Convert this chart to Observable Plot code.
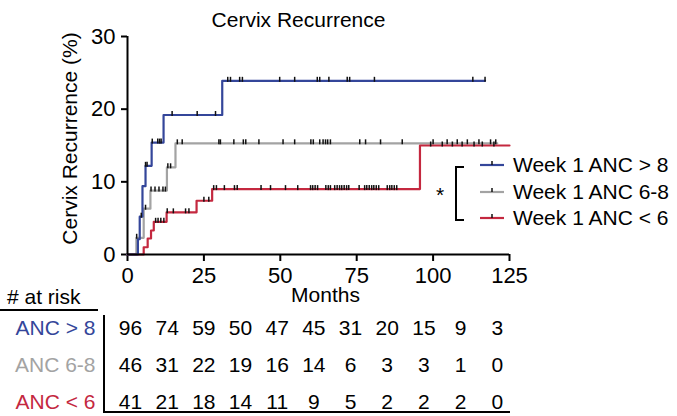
<!DOCTYPE html>
<html><head><meta charset="utf-8">
<script src="https://cdn.jsdelivr.net/npm/d3@7"></script>
<script src="https://cdn.jsdelivr.net/npm/@observablehq/plot@0.6"></script>
<style>
body{margin:0;background:#fff;}
#wrap{position:relative;width:677px;height:416px;overflow:hidden;font-family:"Liberation Sans",Arial,sans-serif;color:#000;background:#fff;}
#wrap > * {position:absolute;}
.leg{font-size:21px;white-space:nowrap;line-height:24px;}
</style></head><body><div id="wrap"></div>
<script>
// ---- data ----
const seriesNames = ["Week 1 ANC 6-8", "Week 1 ANC < 6", "Week 1 ANC > 8"];
const rowNames = ["ANC > 8", "ANC 6-8", "ANC < 6"];
const colors = {blue: "#34469a", gray: "#a3a3a3", red: "#c4283f"};

const blueT = [0, 3.4, 4.0, 4.9, 5.9, 7.9, 11.8, 31.0, 117];
const blueV = [0, 2.1, 5.2, 9.4, 12.2, 15.4, 19.2, 23.9, 23.9];
const blueC = [4.5, 5.9, 6.4, 8.1, 9.9, 10.5, 11.0, 14.6, 22.8, 28.8, 32.8, 33.7, 36.7, 37.6, 49.8, 54.7, 62.1, 62.9, 65.9, 71.9, 72.7, 80.8, 113.0, 117.0];

const grayT = [0, 2.9, 5.3, 7.5, 12.9, 15.7, 121];
const grayV = [0, 2.3, 6.3, 8.8, 12.0, 15.3, 15.3];
const grayC = [3.0, 5.9, 7.7, 9.0, 10.3, 11.6, 12.4, 13.2, 14.1, 16.3, 17.9, 29.9, 30.4, 34.8, 37.9, 38.7, 43.0, 50.9, 54.7, 60.0, 60.8, 62.9, 64.0, 64.8, 65.5, 66.4, 76.0, 77.9, 82.8, 89.9, 100.0, 104.6, 107.9, 111.2, 115.0, 118.8, 120.5];

const redT = [0, 5.3, 6.6, 7.7, 8.6, 12.8, 22.6, 27.7, 95.7, 125];
const redV = [0, 1.0, 2.2, 3.3, 4.5, 5.8, 7.4, 9.0, 15.0, 15.0];
const redC = [9.2, 10.0, 10.9, 11.9, 13.0, 15.0, 19.0, 20.1, 25.0, 26.6, 28.2, 29.1, 31.7, 35.0, 35.9, 43.7, 46.8, 51.7, 55.7, 59.9, 60.6, 61.4, 62.2, 64.9, 65.7, 66.4, 67.8, 68.6, 69.4, 70.1, 70.9, 71.7, 72.4, 75.8, 77.6, 78.3, 79.1, 79.9, 80.6, 81.4, 82.2, 85.0, 85.8, 86.5, 87.3, 88.1, 99.2, 103.0, 106.3, 109.5, 113.4, 116.1, 119.9];

const xTicks = [0, 25, 50, 75, 100, 125];
const yTicks = [0, 10, 20, 30];

const riskMonths = [0, 12, 24, 36, 48, 60, 72, 84, 96, 108, 120];
const riskBlue = [96, 74, 59, 50, 47, 45, 31, 20, 15, 9, 3];
const riskGray = [46, 31, 22, 19, 16, 14, 6, 3, 3, 1, 0];
const riskRed  = [41, 21, 18, 14, 11, 9, 5, 2, 2, 2, 0];

// ---- build ----
const series = [
  {name: seriesNames[0], row: rowNames[1], color: colors.gray, t: grayT, v: grayV, c: grayC, risk: riskGray},
  {name: seriesNames[1], row: rowNames[2], color: colors.red,  t: redT,  v: redV,  c: redC,  risk: riskRed},
  {name: seriesNames[2], row: rowNames[0], color: colors.blue, t: blueT, v: blueV, c: blueC, risk: riskBlue}
];
function levelAt(s, t) { const i = d3.bisectRight(s.t, t) - 1; return s.v[Math.max(0, i)]; }
const lineData = series.flatMap(s => s.t.map((t, i) => ({group: s.name, t, v: s.v[i]})));
const censorData = series.flatMap(s => s.c.map(t => ({group: s.name, t, v: levelAt(s, t)})));
const riskData = series.flatMap(s => riskMonths.map((m, i) => ({row: s.row, m, n: s.risk[i]})));

const font = '"Liberation Sans", Arial, sans-serif';
const tickSymbol = {draw(ctx, size) { const r = Math.sqrt(size / Math.PI); ctx.moveTo(0, r * 0.25); ctx.lineTo(0, -r); }};

const p1 = Plot.plot({
  width: 677, height: 320,
  marginLeft: 127, marginRight: 168, marginTop: 36, marginBottom: 66,
  style: {fontSize: "21px", fontFamily: font, background: "transparent", overflow: "visible", color: "#000"},
  x: {domain: [0, 125], label: null},
  y: {domain: [0, 30], label: null},
  color: {domain: series.map(s => s.name), range: series.map(s => s.color)},
  marks: [
    Plot.axisX({ticks: xTicks, tickSize: 7, tickPadding: 6, strokeWidth: 2, label: null, fontSize: 22}),
    Plot.axisY({ticks: yTicks, tickSize: 6, tickPadding: 6, strokeWidth: 2, label: null, fontSize: 22}),
    Plot.lineY(lineData, {x: "t", y: "v", z: "group", stroke: "group", curve: "step-after", strokeWidth: 2.2}),
    Plot.dot(censorData, {x: "t", y: "v", symbol: tickSymbol, r: 4, stroke: "#111", strokeWidth: 1.5, fill: "none"}),
    Plot.ruleX([0], {strokeWidth: 2}),
    Plot.ruleY([0], {strokeWidth: 2}),
    Plot.text(["Cervix Recurrence"], {text: d => d, frameAnchor: "top", dx: -20, dy: -24}),
    Plot.text(["Cervix Recurrence (%)"], {text: d => d, frameAnchor: "left", textAnchor: "middle", rotate: -90, dx: -57, dy: -7}),
    Plot.text(["Months"], {text: d => d, frameAnchor: "bottom", dx: 7, dy: 47})
  ]
});
p1.style.left = "0px"; p1.style.top = "0px";

const p2 = Plot.plot({
  width: 677, height: 131,
  marginLeft: 127, marginRight: 168, marginTop: 43, marginBottom: 14,
  style: {fontSize: "21px", fontFamily: font, background: "transparent", overflow: "visible", color: "#000"},
  x: {domain: [0, 125], axis: null},
  y: {type: "point", domain: rowNames, padding: 0, axis: null},
  color: {domain: series.map(s => s.row), range: series.map(s => s.color)},
  marks: [
    Plot.text(riskData, {x: "m", y: "row", text: "n", dx: 3}),
    Plot.text(series, {y: "row", text: "row", fill: "row", frameAnchor: "left", textAnchor: "end", dx: -32})
  ]
});
p2.style.left = "0px"; p2.style.top = "285px";

const wrap = document.getElementById("wrap");
wrap.appendChild(p1);
wrap.appendChild(p2);

// table rules and header
const hdr = document.createElement("div");
hdr.textContent = "# at risk";
Object.assign(hdr.style, {left: "0px", top: "285px", width: "91px", height: "24px", paddingLeft: "7px", fontSize: "21px", lineHeight: "24px", borderBottom: "2px solid #000"});
wrap.appendChild(hdr);
const tbl = document.createElement("div");
Object.assign(tbl.style, {left: "103px", top: "315px", width: "405px", height: "96px", borderLeft: "2px solid #000", borderBottom: "2px solid #000"});
wrap.appendChild(tbl);

// legend
const br = document.createElement("div");
Object.assign(br.style, {left: "455px", top: "166px", width: "7px", height: "51px", borderLeft: "2px solid #000", borderTop: "2px solid #000", borderBottom: "2px solid #000"});
wrap.appendChild(br);
const star = document.createElement("div");
star.className = "leg"; star.textContent = "*";
Object.assign(star.style, {left: "436px", top: "183px"});
wrap.appendChild(star);
const legOrder = [series[2], series[0], series[1]];
legOrder.forEach((s, i) => {
  const row = document.createElement("div");
  row.className = "leg";
  Object.assign(row.style, {left: "479px", top: (153 + i * 26.5) + "px", display: "flex", alignItems: "center"});
  row.innerHTML = `<svg width="26" height="24" style="margin-right:8px"><line x1="1" x2="25" y1="12" y2="12" stroke="${s.color}" stroke-width="2.2"/><line x1="13" x2="13" y1="12" y2="8" stroke="#111" stroke-width="1.5"/></svg><span>${s.name}</span>`;
  wrap.appendChild(row);
});
</script></body></html>
